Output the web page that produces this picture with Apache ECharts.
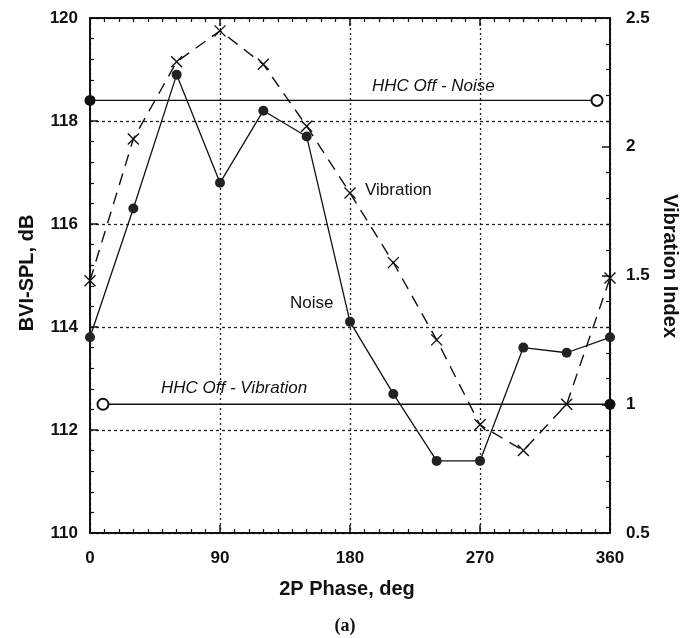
<!DOCTYPE html>
<html>
<head>
<meta charset="utf-8">
<script src="https://cdn.jsdelivr.net/npm/echarts@6/dist/echarts.min.js"></script>
<style>
html,body{margin:0;padding:0;background:#fff;}
#chart{width:692px;height:638px;}
</style>
</head>
<body>
<div id="chart"></div>
<script>
// ---- data ----
var phases = [0, 30, 60, 90, 120, 150, 180, 210, 240, 270, 300, 330, 360];
var noiseSPL = [113.8, 116.3, 118.9, 116.8, 118.2, 117.7, 114.1, 112.7, 111.4, 111.4, 113.6, 113.5, 113.8];
var vibrationIndex = [1.48, 2.03, 2.33, 2.45, 2.32, 2.08, 1.82, 1.55, 1.25, 0.92, 0.82, 1.0, 1.49];
var hhcOffNoisePhases = [0, 351];
var hhcOffNoiseValue = 118.4;
var hhcOffVibPhases = [9, 360];
var hhcOffVibValue = 1.0;
var xTicks = [0, 90, 180, 270, 360];
var leftTicks = [110, 112, 114, 116, 118, 120];
var rightTicks = [0.5, 1, 1.5, 2, 2.5];

var FONT = '"Liberation Sans", Arial, Helvetica, sans-serif';
var INK = '#111';

function pairs(xs, ys) { return xs.map(function (x, i) { return [x, ys[i]]; }); }

var chart = echarts.init(document.getElementById('chart'), null, {renderer: 'canvas'});

var xSplit = {show: true, lineStyle: {color: '#222', type: [2, 3], width: 1.3}};
var ySplit = {show: true, lineStyle: {color: '#222', type: [3, 3], width: 1.3}};
var axisLine = {show: true, onZero: false, lineStyle: {color: INK, width: 2}};
var tick = {show: true, inside: true, length: 8, lineStyle: {color: INK, width: 1.5}};
var minor = function (n) { return {show: true, splitNumber: n, length: 4, lineStyle: {color: INK, width: 1.2}}; };
var lbl = {color: INK, fontFamily: FONT, fontWeight: 'bold', fontSize: 17};

var xSymbol = 'path://M0,0L10,10M10,0L0,10';

var option = {
  backgroundColor: '#fff',
  animation: false,
  grid: {left: 90, right: 82, top: 18, bottom: 105},
  xAxis: [
    {type: 'value', min: xTicks[0], max: xTicks[xTicks.length - 1], interval: 90, position: 'bottom',
     axisLine: axisLine, axisTick: tick, minorTick: minor(9), splitLine: xSplit,
     axisLabel: Object.assign({margin: 17}, lbl)},
    {type: 'value', min: xTicks[0], max: xTicks[xTicks.length - 1], interval: 90, position: 'top',
     axisLine: axisLine, axisTick: tick, minorTick: minor(9), splitLine: {show: false},
     axisLabel: {show: false}}
  ],
  yAxis: [
    {type: 'value', min: leftTicks[0], max: leftTicks[leftTicks.length - 1], interval: 2, position: 'left',
     axisLine: axisLine, axisTick: tick, minorTick: minor(5), splitLine: ySplit,
     axisLabel: Object.assign({margin: 12}, lbl)},
    {type: 'value', min: rightTicks[0], max: rightTicks[rightTicks.length - 1], interval: 0.5, position: 'right',
     axisLine: axisLine, axisTick: tick, minorTick: minor(5), splitLine: {show: false},
     axisLabel: Object.assign({margin: 16, formatter: function (v) { return String(v); }}, lbl)}
  ],
  series: [
    {name: 'Noise', type: 'line', xAxisIndex: 0, yAxisIndex: 0,
     data: pairs(phases, noiseSPL), symbol: 'circle', symbolSize: 10,
     itemStyle: {color: '#222'}, lineStyle: {color: INK, width: 1.3}, z: 5},
    {name: 'Vibration', type: 'line', xAxisIndex: 0, yAxisIndex: 1,
     data: pairs(phases, vibrationIndex), symbol: xSymbol, symbolSize: 11,
     itemStyle: {color: 'none', borderColor: INK, borderWidth: 1.4},
     lineStyle: {color: INK, width: 1.4, type: [12, 8]}, z: 4},
    {name: 'HHC Off - Noise', type: 'line', xAxisIndex: 0, yAxisIndex: 0,
     data: [
       {value: [hhcOffNoisePhases[0], hhcOffNoiseValue], symbol: 'circle', itemStyle: {color: '#111'}},
       {value: [hhcOffNoisePhases[1], hhcOffNoiseValue], symbol: 'emptyCircle', itemStyle: {color: '#111', borderWidth: 1.3}}
     ],
     symbolSize: 11, lineStyle: {color: INK, width: 1.4}, itemStyle: {color: '#111'}, z: 6},
    {name: 'HHC Off - Vibration', type: 'line', xAxisIndex: 0, yAxisIndex: 1,
     data: [
       {value: [hhcOffVibPhases[0], hhcOffVibValue], symbol: 'emptyCircle', itemStyle: {color: '#111', borderWidth: 1.3}},
       {value: [hhcOffVibPhases[1], hhcOffVibValue], symbol: 'circle', itemStyle: {color: '#111'}}
     ],
     symbolSize: 11, lineStyle: {color: INK, width: 1.4}, itemStyle: {color: '#111'}, z: 6}
  ],
  graphic: [
    {type: 'text', left: 372, top: 78, style: {text: 'HHC Off - Noise', font: 'italic 17px ' + FONT, fill: INK}},
    {type: 'text', left: 161, top: 380, style: {text: 'HHC Off - Vibration', font: 'italic 17px ' + FONT, fill: INK}},
    {type: 'text', left: 365, top: 182, style: {text: 'Vibration', font: '17px ' + FONT, fill: INK}},
    {type: 'text', left: 290, top: 295, style: {text: 'Noise', font: '17px ' + FONT, fill: INK}},
    {type: 'text', x: 27, y: 273, rotation: Math.PI / 2,
     style: {text: 'BVI-SPL, dB', font: 'bold 20px ' + FONT, fill: INK, textAlign: 'center', textVerticalAlign: 'middle'}},
    {type: 'text', x: 670, y: 266, rotation: -Math.PI / 2,
     style: {text: 'Vibration Index', font: 'bold 20px ' + FONT, fill: INK, textAlign: 'center', textVerticalAlign: 'middle'}},
    {type: 'text', x: 347, y: 589,
     style: {text: '2P Phase, deg', font: 'bold 20px ' + FONT, fill: INK, textAlign: 'center', textVerticalAlign: 'middle'}},
    {type: 'text', x: 345, y: 626,
     style: {text: '(a)', font: 'bold 18px "Liberation Serif", "Times New Roman", serif', fill: INK, textAlign: 'center', textVerticalAlign: 'middle'}}
  ]
};
chart.setOption(option);
</script>
</body>
</html>
